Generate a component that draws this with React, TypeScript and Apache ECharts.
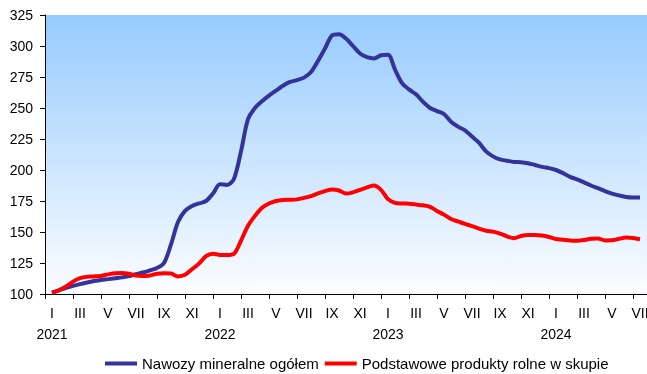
import React, { useEffect, useRef } from "react";
import * as echarts from "echarts";

const months = ["I", "II", "III", "IV", "V", "VI", "VII", "VIII", "IX", "X", "XI", "XII"];
const years = [2021, 2022, 2023, 2024];
const monthCount = 43; // I 2021 .. VII 2024

const seriesNames = ["Nawozy mineralne ogółem", "Podstawowe produkty rolne w skupie"];

// half-month readings, first point at middle of I 2021, step 0.5 month
const startPos = 0.5;
const step = 0.5;

const nawozy = [
  101, 103, 105, 106.5, 108, 109.3, 110.5, 111.3, 112, 112.7,
  113.4, 114.5, 116, 117.3, 119, 121, 125, 140, 158, 167,
  171, 173, 175, 181, 188.5, 188, 193, 215, 241, 250,
  255.5, 260, 264, 268, 271, 272.5, 274.5, 279, 288, 298,
  308.5, 309.5, 306, 300, 294, 291, 290, 292.5, 293, 281,
  270, 265, 261, 255, 250, 247.5, 245, 239, 235, 232,
  227, 222, 215, 211, 208.5, 207.5, 206.5, 206.3, 205.5, 204,
  202.5, 201.5, 200, 197.5, 194.5, 192.5, 190, 187.5, 185.3, 183,
  181, 179.5, 178.2, 177.8, 177.8,
];

const produkty = [
  101, 103, 106, 110, 112.8, 114, 114.2, 114.6, 115.8, 116.8,
  117, 116.3, 114.8, 114.5, 115, 116.3, 116.8, 116.5, 114.2, 115.5,
  120, 124.5, 130.5, 132.5, 131.5, 131.5, 132.5, 143, 155, 163,
  169.5, 173, 175, 175.8, 176, 176.3, 177.5, 179, 181.2, 183,
  184.3, 183.5, 181, 182, 184, 186, 187.5, 184, 176.5, 173.5,
  173, 172.8, 172.2, 171.5, 170.3, 167, 164, 160.5, 158.5, 156.5,
  154.8, 152.8, 151, 150.3, 148.7, 146.5, 145, 146.8, 147.6, 147.6,
  147.2, 146, 144.3, 143.8, 143.2, 143, 143.5, 144.6, 144.7, 143.2,
  143.3, 144.5, 145.6, 145.2, 144.2,
];

const yMin = 100;
const yMax = 325;
const yStep = 25;

export default function App() {
  const ref = useRef<HTMLDivElement>(null);

  useEffect(() => {
    if (!ref.current) return;
    const chart = echarts.init(ref.current, undefined, { renderer: "svg" });

    const monthLabels: string[] = [];
    for (let i = 0; i < monthCount; i++) {
      const m = i % 12;
      const y = years[Math.floor(i / 12)];
      monthLabels.push(m === 0 ? `${months[m]}\n${y}` : months[m]);
    }

    const toPairs = (arr: number[]) => arr.map((v, i) => [startPos + i * step, v]);

    const font = "'Liberation Sans', Arial, sans-serif";

    chart.setOption({
      animation: false,
      textStyle: { fontFamily: font },
      grid: {
        left: 45,
        right: 0,
        top: 15,
        bottom: 80,
        containLabel: false,
        outerBoundsMode: "none",
        show: true,
        borderWidth: 0,
        backgroundColor: new echarts.graphic.LinearGradient(0, 0, 0, 1, [
          { offset: 0, color: "#96cbff" },
          { offset: 1, color: "#fcfdff" },
        ]),
      },
      legend: {
        left: 105,
        top: 356,
        padding: 0,
        itemWidth: 32,
        itemHeight: 4,
        itemGap: 6,
        icon: "rect",
        textStyle: { fontSize: 15, color: "#000", fontFamily: font },
        data: seriesNames,
      },
      xAxis: [
        {
          type: "value",
          min: 0,
          max: monthCount,
          interval: 2,
          position: "bottom",
          axisLine: { show: true, lineStyle: { color: "#000", width: 1 } },
          axisTick: { show: true, length: 5, lineStyle: { color: "#000" } },
          axisLabel: { show: false },
          splitLine: { show: false },
        },
        {
          type: "category",
          data: monthLabels,
          boundaryGap: true,
          position: "bottom",
          offset: 0,
          axisLine: { show: false },
          axisTick: { show: false },
          splitLine: { show: false },
          axisLabel: {
            interval: 1,
            margin: 8,
            fontSize: 14,
            lineHeight: 21,
            color: "#000",
            fontFamily: font,
          },
        },
      ],
      yAxis: {
        type: "value",
        min: yMin,
        max: yMax,
        interval: yStep,
        axisLine: { show: true, lineStyle: { color: "#000", width: 1 } },
        axisTick: { show: true, length: 5, lineStyle: { color: "#000" } },
        axisLabel: { margin: 12, fontSize: 14, color: "#000", fontFamily: font },
        splitLine: { show: false },
      },
      series: [
        {
          name: seriesNames[0],
          type: "line",
          xAxisIndex: 0,
          data: toPairs(nawozy),
          smooth: 0.3,
          showSymbol: false,
          symbol: "none",
          lineStyle: { color: "#333399", width: 4 },
          itemStyle: { color: "#333399" },
        },
        {
          name: seriesNames[1],
          type: "line",
          xAxisIndex: 0,
          data: toPairs(produkty),
          smooth: 0.3,
          showSymbol: false,
          symbol: "none",
          lineStyle: { color: "#ff0000", width: 4 },
          itemStyle: { color: "#ff0000" },
        },
      ],
    });

    return () => chart.dispose();
  }, []);

  return (
    <div
      ref={ref}
      style={{ position: "fixed", left: 0, top: 0, width: 647, height: 374 }}
    />
  );
}
